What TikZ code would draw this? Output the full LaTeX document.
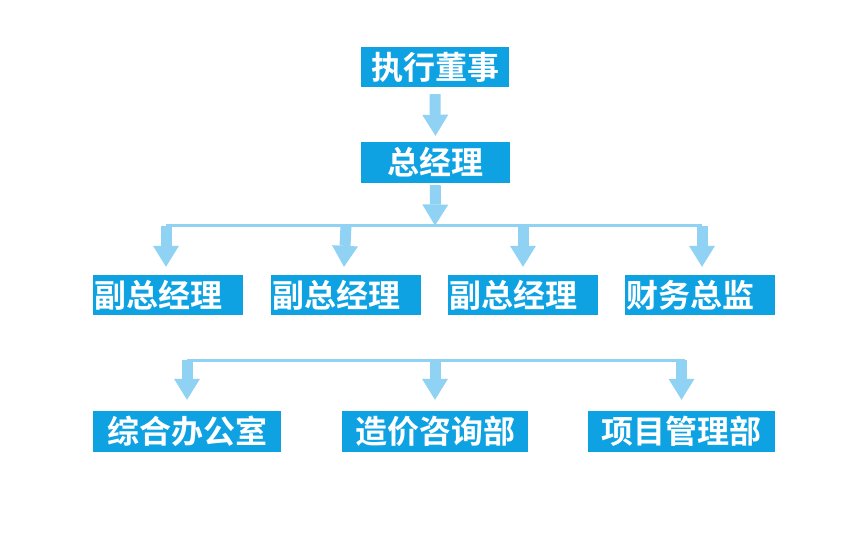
\documentclass[tikz,border=0pt]{standalone}
\usepackage{fontspec}
\newfontfamily\cjkb{Noto Sans CJK SC Bold}
\usetikzlibrary{arrows.meta}
\definecolor{boxblue}{HTML}{0EA2E2}
\definecolor{arrblue}{HTML}{8FD2F3}
\tikzset{
  orgbox/.style={fill=boxblue, text=white, font=\cjkb\fontsize{32}{32}\selectfont,
    inner sep=0pt, minimum height=40pt},
  fat/.style={draw=arrblue, line width=11pt,
    -{Triangle[width=26pt,length=21pt,fill=arrblue,line width=0pt]}},
  hline/.style={draw=arrblue, line width=3pt},
}
\begin{document}
\begin{tikzpicture}[x=1pt,y=-1pt]
\useasboundingbox (0,0) rectangle (861,548);
% level 1 and 2
\node[orgbox, minimum width=148pt] (ceo) at (435,67) {执行董事};
\node[orgbox, minimum width=149pt, minimum height=41pt] (gm) at (435.5,162.5) {总经理};
% level 3
\node[orgbox, minimum width=150pt, text width=148pt, align=left] (v1) at (168,295) {副总经理};
\node[orgbox, minimum width=150pt, text width=148pt, align=left] (v2) at (346,295) {副总经理};
\node[orgbox, minimum width=150pt, text width=148pt, align=left] (v3) at (523,295) {副总经理};
\node[orgbox, minimum width=150pt, text width=148pt, align=left] (cfo) at (700,295) {财务总监};
% level 4
\node[orgbox, minimum width=188pt, minimum height=41pt] (d1) at (187,431.5) {综合办公室};
\node[orgbox, minimum width=186pt, minimum height=41pt] (d2) at (435,431.5) {造价咨询部};
\node[orgbox, minimum width=187pt, minimum height=41pt] (d3) at (681.5,431.5) {项目管理部};
% junction coordinates
\coordinate (h1l) at (166,225.5);
\coordinate (h1r) at (702,225.5);
\coordinate (h1m) at (435,225.5);
\coordinate (h2l) at (187,360);
\coordinate (h2r) at (685,360);
% lines
\draw[hline] (h1l) -- (h1r);
\draw[hline] (h2l) -- (h2r);
% arrows
\draw[fat] ([yshift=-7pt]ceo.south) -- ([yshift=6pt]gm.north);
\draw[fat] ([yshift=-2pt]gm.south) -- (h1m);
\draw[fat] (h1l) -- ([xshift=-2pt,yshift=8pt]v1.north);
\draw[fat] (v2.north |- h1l) -- ([xshift=-2pt,yshift=8pt]v2.north);
\draw[fat] (v3.north |- h1l) -- ([yshift=8pt]v3.north);
\draw[fat] (h1r) -- ([xshift=2pt,yshift=8pt]cfo.north);
\draw[fat] (h2l) -- ([yshift=11pt]d1.north);
\draw[fat] (d2.north |- h2l) -- ([yshift=11pt]d2.north);
\draw[fat] (d3.north |- h2l) -- ([yshift=11pt]d3.north);
\end{tikzpicture}
\end{document}
